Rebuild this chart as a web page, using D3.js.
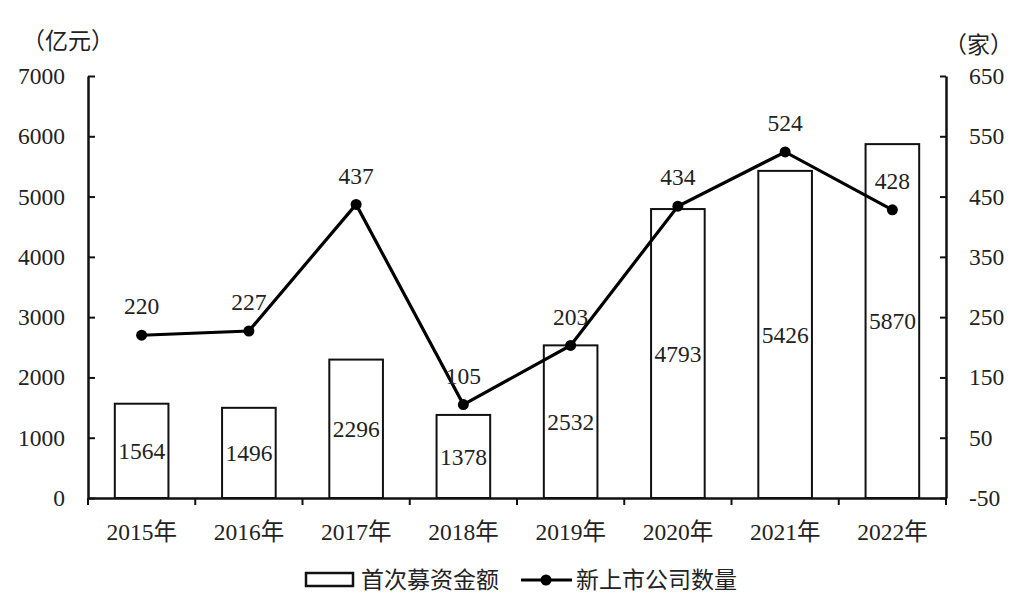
<!DOCTYPE html>
<html><head><meta charset="utf-8">
<script src="https://cdn.jsdelivr.net/npm/d3@7"></script>
<style>body{margin:0;background:#fff}svg{display:block}text{font-family:"Liberation Serif","Times New Roman","Noto Sans CJK SC",serif;fill:#222}</style>
</head><body><svg id="c" width="1022" height="604"></svg>
<script>
const categories = ["2015年","2016年","2017年","2018年","2019年","2020年","2021年","2022年"];
const ipoAmount = [1564,1496,2296,1378,2532,4793,5426,5870];
const newListings = [220,227,437,105,203,434,524,428];
const leftTicks = [0,1000,2000,3000,4000,5000,6000,7000];
const rightTicks = [-50,50,150,250,350,450,550,650];

const svg = d3.select("#c");
const L = 88, R = 946, T = 76, B = 498;
const FS = 23.5;
const x = d3.scaleBand().domain(categories).range([L, R]).paddingInner(0.5).paddingOuter(0.25);
const xb = d3.scaleBand().domain(categories).range([L, R]);
const yL = d3.scaleLinear().domain([0,7000]).range([B,T]);
const yR = d3.scaleLinear().domain([-50,650]).range([B,T]);
const fmt = d => String(d);

// bars
svg.selectAll("rect.bar").data(ipoAmount).join("rect")
  .attr("x",(d,i)=>x(categories[i])).attr("width",x.bandwidth())
  .attr("y",d=>yL(d)).attr("height",d=>B-yL(d))
  .attr("fill","#fff").attr("stroke","#111").attr("stroke-width",2);
svg.selectAll("text.bl").data(ipoAmount).join("text")
  .attr("x",(d,i)=>x(categories[i])+x.bandwidth()/2)
  .attr("y",d=>(yL(d)+B)/2).attr("dy","0.35em")
  .attr("text-anchor","middle").attr("font-size",FS).text(d=>d);

// axes
const axL = svg.append("g").attr("transform",`translate(${L},0)`)
  .call(d3.axisLeft(yL).tickValues(leftTicks).tickFormat(fmt).tickSizeInner(-7).tickSizeOuter(0).tickPadding(23));
const axR = svg.append("g").attr("transform",`translate(${R},0)`)
  .call(d3.axisRight(yR).tickValues(rightTicks).tickFormat(fmt).tickSizeInner(-6).tickSizeOuter(0).tickPadding(23));
const axB = svg.append("g").attr("transform",`translate(0,${B})`)
  .call(d3.axisBottom(xb).tickSizeInner(0).tickSizeOuter(0).tickPadding(20));
svg.append("g").attr("transform",`translate(0,${B})`).selectAll("line")
  .data(categories.concat(["end"])).join("line")
  .attr("x1",(d,i)=>i<categories.length?xb(d):R).attr("x2",(d,i)=>i<categories.length?xb(d):R)
  .attr("y1",0).attr("y2",7).attr("stroke","#111").attr("stroke-width",2);
[axL,axR,axB].forEach(a=>{
  a.selectAll("path.domain").attr("stroke","#111").attr("stroke-width",2.5);
  a.selectAll(".tick line").attr("stroke","#111").attr("stroke-width",2);
  a.selectAll(".tick text").attr("font-size",FS).attr("fill","#222")
   .attr("font-family",'"Liberation Serif","Noto Sans CJK SC",serif');
});
axB.selectAll(".tick text").attr("dy","0.95em");

// line
const cx = (d,i)=>xb(categories[i])+xb.bandwidth()/2;
svg.append("path").datum(newListings)
  .attr("d",d3.line().x(cx).y(d=>yR(d)))
  .attr("fill","none").attr("stroke","#000").attr("stroke-width",3.2);
svg.selectAll("circle.pt").data(newListings).join("circle")
  .attr("cx",cx).attr("cy",d=>yR(d)).attr("r",5.5).attr("fill","#000");
svg.selectAll("text.ll").data(newListings).join("text")
  .attr("x",cx).attr("y",d=>yR(d)-29).attr("dy","0.35em")
  .attr("text-anchor","middle").attr("font-size",FS).text(d=>d);

// units
svg.append("text").attr("x",22).attr("y",41).attr("dy","0.35em").attr("font-size",23).text("（亿元）");
svg.append("text").attr("x",944).attr("y",45).attr("dy","0.35em").attr("font-size",23).text("（家）");

// legend
const ly = 580;
svg.append("rect").attr("x",306).attr("y",ly-7).attr("width",47).attr("height",13)
  .attr("fill","#fff").attr("stroke","#111").attr("stroke-width",2.5);
svg.append("text").attr("x",361).attr("y",ly).attr("dy","0.35em").attr("font-size",23).text("首次募资金额");
svg.append("line").attr("x1",521).attr("x2",572).attr("y1",ly).attr("y2",ly).attr("stroke","#000").attr("stroke-width",3.2);
svg.append("circle").attr("cx",546).attr("cy",ly).attr("r",5.5).attr("fill","#000");
svg.append("text").attr("x",576).attr("y",ly).attr("dy","0.35em").attr("font-size",23).text("新上市公司数量");
</script></body></html>
